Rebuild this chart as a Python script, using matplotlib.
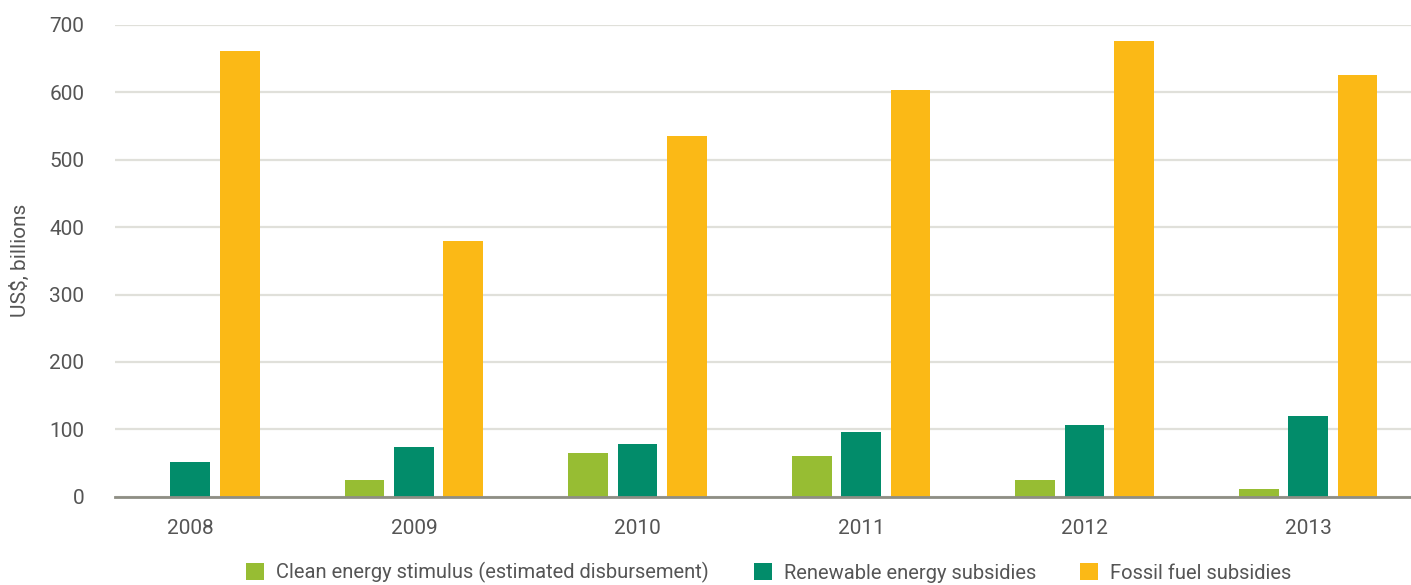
import matplotlib
matplotlib.use("Agg")
import matplotlib.pyplot as plt
import numpy as np
from matplotlib.patches import Patch

plt.rcParams['font.family'] = ['Roboto', 'DejaVu Sans']

years = ["2008", "2009", "2010", "2011", "2012", "2013"]
clean = [0, 25, 65, 60, 25, 11]
renewable = [52, 74, 78, 96, 106, 120]
fossil = [661, 380, 535, 603, 676, 626]
series_names = ["Clean energy stimulus (estimated disbursement)",
                "Renewable energy subsidies", "Fossil fuel subsidies"]
colors = ["#97BD33", "#028C6A", "#FBB916"]
text_color = "#555555"

fig = plt.figure(figsize=(14.11, 5.85), dpi=100)
ax = fig.add_axes([115/1411, 1-496.7/585, 1-115/1411, (496.7-25)/585])

x = np.arange(len(years))
w = 0.178
off = 0.221
for vals, dx, c in zip([clean, renewable, fossil], [-off, 0, off], colors):
    ax.bar(x + dx, vals, width=w, color=c, zorder=3)

ax.set_xlim(-0.337, 5.46)
ax.set_ylim(0, 700)
ax.set_yticks(range(0, 701, 100))
ax.set_xticks(x)
ax.set_xticklabels(years)
ax.yaxis.grid(True, color="#E0E0DA", linewidth=1.6, zorder=0)
ax.set_axisbelow(True)
for s in ["top", "right", "left"]:
    ax.spines[s].set_visible(False)
ax.spines["bottom"].set_color("#8E8E84")
ax.spines["bottom"].set_linewidth(2)
ax.spines["bottom"].set_zorder(4)
ax.tick_params(axis="both", length=0, labelsize=15, colors=text_color)
ax.tick_params(axis="y", pad=22)
ax.tick_params(axis="x", pad=16)
ax.set_ylabel("US$, billions", fontsize=15, color=text_color, labelpad=14)

handles = [Patch(facecolor=c, edgecolor="none") for c in colors]
fig.legend(handles, series_names, loc="lower center", bbox_to_anchor=(0.545, -0.028),
           ncol=3, frameon=False, fontsize=14.5, handlelength=0.9, handleheight=0.9,
           handletextpad=0.6, columnspacing=2.2, labelcolor=text_color)

fig.savefig("out.png", dpi=100)
